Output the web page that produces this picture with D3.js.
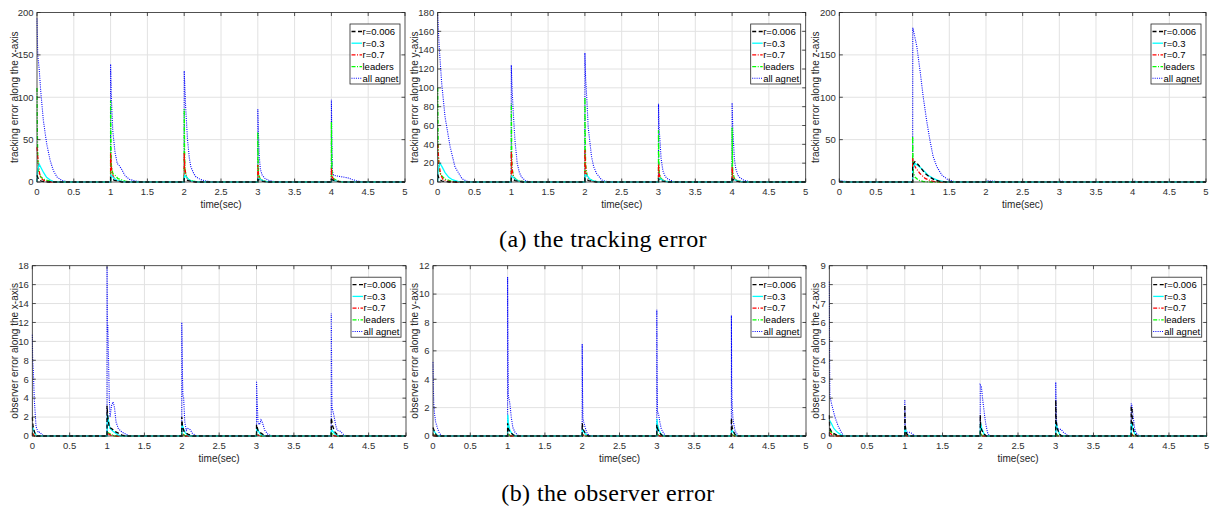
<!DOCTYPE html>
<html>
<head>
<meta charset="utf-8">
<script src="https://cdn.jsdelivr.net/npm/d3@7"></script>
<style>
  body { margin: 0; background: #fff; }
  svg { display: block; font-family: "Liberation Sans", Arial, sans-serif; }
  .tick-lbl { font-size: 9.5px; fill: #303030; }
  .ax-lbl   { font-size: 10px; fill: #262626; }
  .leg-lbl  { font-size: 9.5px; fill: #000; }
</style>
</head>
<body>
<svg id="fig" width="1214" height="513"></svg>
<script>
// ── 데이터 ───────────────────────────────────────────
const xTicks = [0, 0.5, 1, 1.5, 2, 2.5, 3, 3.5, 4, 4.5, 5];
const yTicksTx = [0, 50, 100, 150, 200];
const yTicksTy = [0, 20, 40, 60, 80, 100, 120, 140, 160, 180];
const yTicksTz = [0, 50, 100, 150, 200];
const yTicksOx = [0, 2, 4, 6, 8, 10, 12, 14, 16, 18];
const yTicksOy = [0, 2, 4, 6, 8, 10, 12];
const yTicksOz = [0, 1, 2, 3, 4, 5, 6, 7, 8, 9];

const legendNames = ["r=0.006", "r=0.3", "r=0.7", "leaders", "all agnet"];

// tracking error, x-axis
const tx_r006 = [[0,8],[0.02,3],[0.06,1],[0.15,0],[1,0],[1,5],[1.05,2],[1.15,0],[2,0],[2,4],[2.05,1.5],[2.15,0],[3,0],[3,3],[3.05,1],[3.12,0],[4,0],[4,3],[4.06,1],[4.15,0],[5,0]];
const tx_r03  = [[0,0],[0.005,12],[0.03,21],[0.06,16],[0.09,11],[0.13,5.5],[0.18,2.4],[0.22,0.5],[0.3,0],[1,0],[1.005,8],[1.03,6],[1.06,3],[1.1,1.5],[1.2,0],[2,0],[2.005,8],[2.03,6],[2.06,3],[2.1,1],[2.2,0],[3,0],[3.005,4],[3.03,3],[3.08,1],[3.15,0],[4,0],[4.005,3],[4.03,2],[4.1,0.5],[4.2,0],[5,0]];
const tx_r07  = [[0,41],[0.01,30],[0.02,20],[0.035,10],[0.06,4],[0.1,1.5],[0.2,0],[1,0],[1,34],[1.01,18],[1.02,10],[1.05,4],[1.1,1.5],[1.2,0],[2,0],[2,34],[2.01,15],[2.03,6],[2.06,2],[2.12,0.5],[2.2,0],[3,0],[3,20],[3.01,8],[3.03,3],[3.08,1],[3.15,0],[4,0],[4,17],[4.01,6],[4.03,3],[4.08,1],[4.15,0],[5,0]];
const tx_lead = [[0,111],[0.005,60],[0.01,30],[0.02,12],[0.05,6],[0.1,3],[0.18,1],[0.3,0],[1,0],[1,96],[1.005,50],[1.01,20],[1.03,10],[1.06,8],[1.1,4],[1.2,1],[1.3,0],[2,0],[2,86],[2.005,40],[2.01,15],[2.03,6],[2.06,3],[2.12,1],[2.2,0],[3,0],[3,59],[3.005,25],[3.01,10],[3.03,4],[3.07,1.5],[3.15,0],[4,0],[4,71],[4.005,30],[4.01,10],[4.03,4],[4.08,1.5],[4.15,0],[5,0]];
const tx_all  = [[0,193],[0.01,150],[0.03,133],[0.05,108],[0.086,73],[0.13,46],[0.177,26],[0.22,14],[0.27,6],[0.335,2],[0.4,0.5],[0.5,0],[1,0],[1,139],[1.01,100],[1.03,60],[1.06,35],[1.09,22],[1.12,19],[1.15,15],[1.2,7],[1.26,3],[1.35,1],[1.45,0],[2,0],[2,131],[2.01,110],[2.02,88],[2.045,50],[2.07,28],[2.09,18],[2.13,10],[2.16,6],[2.22,3],[2.3,1],[2.4,0],[3,0],[3,86],[3.01,55],[3.02,30],[3.035,15],[3.06,8],[3.1,4],[3.15,2],[3.22,0.5],[3.3,0],[4,0],[4,97],[4.005,60],[4.01,30],[4.015,12],[4.03,8],[4.08,7],[4.15,6],[4.22,5],[4.28,3],[4.35,1.2],[4.42,0],[5,0]];

// tracking error, y-axis
const ty_r006 = [[0,8],[0.02,3],[0.06,1],[0.15,0],[1,0],[1,4],[1.05,1.5],[1.15,0],[2,0],[2,4],[2.05,1.5],[2.15,0],[3,0],[3,3],[3.05,1],[3.12,0],[4,0],[4,3],[4.05,1],[4.12,0],[5,0]];
const ty_r03  = [[0,0],[0.005,12],[0.03,20],[0.06,16],[0.1,10],[0.15,5],[0.2,2.4],[0.28,0.5],[0.35,0],[1,0],[1.005,6],[1.03,5],[1.06,2.5],[1.1,1],[1.2,0],[2,0],[2.005,8],[2.03,7],[2.06,3.5],[2.1,1.5],[2.18,0],[3,0],[3.005,4],[3.03,3],[3.08,1],[3.15,0],[4,0],[4.005,3],[4.03,2.5],[4.08,1],[4.15,0],[5,0]];
const ty_r07  = [[0,40],[0.01,28],[0.02,18],[0.04,8],[0.07,3],[0.12,1],[0.2,0],[1,0],[1,32],[1.01,15],[1.02,8],[1.05,3],[1.1,1],[1.2,0],[2,0],[2,34],[2.01,16],[2.02,8],[2.05,3],[2.1,1],[2.2,0],[3,0],[3,19],[3.01,8],[3.03,3],[3.08,1],[3.15,0],[4,0],[4,16],[4.01,6],[4.03,3],[4.08,1],[4.15,0],[5,0]];
const ty_lead = [[0,100],[0.005,50],[0.01,25],[0.02,12],[0.05,7],[0.1,3],[0.18,1],[0.3,0],[1,0],[1,83],[1.005,40],[1.01,15],[1.03,6],[1.06,3],[1.12,1],[1.2,0],[2,0],[2,90],[2.005,45],[2.01,18],[2.03,7],[2.06,3],[2.12,1],[2.2,0],[3,0],[3,55],[3.005,25],[3.01,10],[3.03,4],[3.07,1.5],[3.15,0],[4,0],[4,58],[4.005,25],[4.01,10],[4.03,4],[4.07,1.5],[4.15,0],[5,0]];
const ty_all  = [[0,177],[0.01,160],[0.02,144],[0.054,105],[0.1,69],[0.17,37],[0.235,16],[0.33,3.5],[0.4,0.7],[0.5,0],[1,0],[1,124],[1.01,100],[1.025,76],[1.05,44],[1.08,20],[1.11,10],[1.14,5],[1.2,1],[1.28,0],[2,0],[2,137],[2.01,110],[2.025,90],[2.045,58],[2.09,27],[2.12,16],[2.16,9],[2.23,2],[2.3,0.5],[2.38,0],[3,0],[3,83],[3.01,55],[3.02,44],[3.035,25],[3.06,12],[3.09,6],[3.13,3],[3.2,0.7],[3.28,0],[4,0],[4,84],[4.01,55],[4.02,41],[4.03,25],[4.05,14],[4.08,7],[4.1,5],[4.16,1.8],[4.25,0.3],[4.3,0],[5,0]];

// tracking error, z-axis
const tz_r006 = [[0,0.5],[0.1,0],[1,0],[1,20],[1.03,24],[1.07,21],[1.1,18],[1.17,10],[1.24,5.5],[1.3,2.4],[1.37,0.8],[1.45,0],[5,0]];
const tz_r03  = [[0,0.5],[0.1,0],[1,0],[1,15],[1.03,22],[1.08,19],[1.145,14],[1.21,8],[1.28,4.3],[1.37,1.2],[1.45,0.2],[1.5,0],[5,0]];
const tz_r07  = [[0,0],[1,0],[1,28],[1.01,22],[1.04,17],[1.1,10],[1.17,4.3],[1.24,1.6],[1.3,0.5],[1.4,0],[5,0]];
const tz_lead = [[0,1],[0.05,0],[1,0],[1,54],[1.005,25],[1.01,12],[1.03,6],[1.08,2],[1.15,0.5],[1.25,0],[5,0]];
const tz_all  = [[0,2],[0.05,1],[0.2,0],[1,0],[1.002,182],[1.02,175],[1.055,161],[1.1,132],[1.145,100],[1.19,73],[1.236,49],[1.28,30],[1.33,18],[1.4,8],[1.486,2.4],[1.58,0.3],[1.65,0],[2,0],[2.02,1.5],[2.15,0.5],[2.25,0],[3,0],[3.02,1],[3.12,0],[4,0],[4.02,1],[4.12,0],[5,0]];

// observer error, x-axis
const ox_r006 = [[0,2],[0.01,1],[0.03,0.4],[0.06,0],[1,0],[1,3.2],[1.01,2],[1.03,0.9],[1.06,0.8],[1.1,0.5],[1.2,0.1],[1.25,0],[2,0],[2,2],[2.01,1],[2.03,0.5],[2.08,0.2],[2.15,0],[3,0],[3,1.2],[3.02,0.6],[3.06,0.3],[3.12,0],[4,0],[4,1.9],[4.02,1],[4.05,0.4],[4.1,0],[5,0]];
const ox_r03  = [[0,1],[0.02,0.5],[0.05,0.1],[0.08,0],[1,0],[1.005,2.3],[1.02,1.6],[1.04,0.8],[1.08,0.5],[1.15,0.1],[1.2,0],[2,0],[2.005,1.2],[2.02,0.8],[2.05,0.3],[2.1,0],[3,0],[3.005,0.9],[3.02,0.6],[3.05,0.2],[3.1,0],[4,0],[4.005,0.7],[4.02,0.5],[4.05,0.2],[4.1,0],[5,0]];
const ox_r07  = [[0,0.3],[0.03,0],[1,0],[1,0.3],[1.05,0.1],[1.1,0],[2,0],[2,0.2],[2.05,0],[3,0],[3,0.15],[3.05,0],[4,0],[4,0.2],[4.05,0],[5,0]];
const ox_lead = [[0,0.3],[0.03,0],[1,0],[1,0.4],[1.05,0.2],[1.1,0],[2,0],[2,0.3],[2.05,0],[3,0],[3,0.2],[3.05,0],[4,0],[4,0.3],[4.05,0],[5,0]];
const ox_all  = [[0,10.7],[0.005,8],[0.013,7],[0.027,3.8],[0.05,1],[0.08,0.35],[0.1,0.4],[0.125,0.2],[0.15,0],[1,0],[1,18],[1.005,11],[1.01,11.8],[1.02,8],[1.03,4],[1.04,2],[1.06,3.2],[1.08,3.6],[1.1,3],[1.12,1.5],[1.15,0.8],[1.2,0.4],[1.3,0],[2,0],[2,12],[2.01,6],[2.015,4.3],[2.025,4],[2.04,1.5],[2.06,0.6],[2.08,0.8],[2.11,0.7],[2.14,0.3],[2.2,0],[3,0],[3,5.8],[3.01,3.5],[3.02,1.4],[3.04,1.2],[3.06,1.7],[3.08,1.4],[3.11,0.6],[3.15,0.2],[3.2,0],[4,0],[4,13],[4.005,7],[4.01,3],[4.02,2.7],[4.04,2],[4.06,1.1],[4.08,0.6],[4.12,0.5],[4.16,0.2],[4.2,0],[5,0]];

// observer error, y-axis
const oy_r006 = [[0,0.6],[0.02,0.3],[0.05,0],[1,0],[1,0.9],[1.01,0.5],[1.03,0.3],[1.07,0.1],[1.1,0],[2,0],[2,0.9],[2.01,0.5],[2.04,0.2],[2.08,0],[3,0],[3,0.8],[3.01,0.5],[3.04,0.2],[3.08,0],[4,0],[4,1.25],[4.01,0.6],[4.03,0.3],[4.06,0],[5,0]];
const oy_r03  = [[0,0.4],[0.02,0.3],[0.04,0.15],[0.07,0],[1,0],[1.003,1.5],[1.01,0.9],[1.03,0.4],[1.06,0.15],[1.1,0],[2,0],[2.003,0.5],[2.02,0.3],[2.05,0.1],[2.08,0],[3,0],[3.003,1.2],[3.01,0.8],[3.03,0.4],[3.06,0.1],[3.1,0],[4,0],[4.003,0.45],[4.02,0.3],[4.05,0.1],[4.08,0],[5,0]];
const oy_r07  = [[0,0.1],[0.03,0],[1,0],[1,0.15],[1.04,0],[2,0],[2,0.1],[2.04,0],[3,0],[3,0.1],[3.04,0],[4,0],[4,0.1],[4.04,0],[5,0]];
const oy_lead = [[0,0.15],[0.03,0],[1,0],[1,0.2],[1.04,0],[2,0],[2,0.15],[2.04,0],[3,0],[3,0.15],[3.04,0],[4,0],[4,0.15],[4.04,0],[5,0]];
const oy_all  = [[0,5.2],[0.005,3.5],[0.01,2.3],[0.02,1.6],[0.035,1],[0.06,0.55],[0.085,0.2],[0.12,0],[1,0],[1,11.2],[1.005,6],[1.01,2.8],[1.02,2.6],[1.03,2.3],[1.05,1.3],[1.07,0.6],[1.1,0.25],[1.15,0],[2,0],[2,6.5],[2.005,3],[2.01,1.3],[2.02,1],[2.035,0.7],[2.06,0.25],[2.1,0],[3,0],[3,8.9],[3.005,4],[3.01,1.7],[3.025,1.5],[3.04,1],[3.06,0.5],[3.09,0.2],[3.12,0],[4,0],[4,8.5],[4.004,4],[4.01,2.3],[4.02,1.3],[4.03,0.9],[4.05,0.35],[4.08,0.1],[4.1,0],[5,0]];

// observer error, z-axis
const oz_r006 = [[0,1.1],[0.005,0.4],[0.02,0.3],[0.05,0.15],[0.1,0.05],[0.15,0],[1,0],[1,1.64],[1.005,0.6],[1.02,0.15],[1.05,0],[2,0],[2,1.1],[2.005,0.5],[2.02,0.3],[2.05,0.1],[2.08,0],[3,0],[3,1.9],[3.005,0.8],[3.02,0.4],[3.05,0.1],[3.08,0],[4,0],[4,1.55],[4.01,1.5],[4.015,0.8],[4.03,0.3],[4.05,0.1],[4.08,0],[5,0]];
const oz_r03  = [[0,0.85],[0.03,0.65],[0.06,0.4],[0.1,0.22],[0.16,0.05],[0.2,0],[1,0],[1.003,0.5],[1.02,0.15],[1.05,0],[2,0],[2.003,0.7],[2.02,0.4],[2.05,0.1],[2.08,0],[3,0],[3.003,0.8],[3.02,0.4],[3.05,0.1],[3.08,0],[4,0],[4.003,0.75],[4.02,0.4],[4.05,0.1],[4.08,0],[5,0]];
const oz_r07  = [[0,0.2],[0.05,0],[1,0],[1,0.1],[1.03,0],[2,0],[2,0.1],[2.03,0],[3,0],[3,0.1],[3.03,0],[4,0],[4,0.1],[4.03,0],[5,0]];
const oz_lead = [[0,0.3],[0.05,0.1],[0.1,0],[1,0],[1,0.15],[1.03,0],[2,0],[2,0.15],[2.03,0],[3,0],[3,0.15],[3.03,0],[4,0],[4,0.15],[4.03,0],[5,0]];
const oz_all  = [[0,8.15],[0.004,4],[0.008,2.1],[0.03,1.7],[0.075,1],[0.12,0.5],[0.165,0.15],[0.2,0],[1,0],[1,1.9],[1.005,0.8],[1.01,0.3],[1.03,0.2],[1.06,0.2],[1.09,0.15],[1.12,0.05],[1.15,0],[2,0],[2,2.7],[2.015,2.6],[2.03,2],[2.045,1.5],[2.06,1],[2.075,0.6],[2.095,0.2],[2.12,0],[3,0],[3,2.85],[3.005,1.5],[3.01,0.85],[3.02,0.4],[3.04,0.35],[3.07,0.35],[3.1,0.2],[3.15,0.05],[3.2,0],[4,0],[4,1.72],[4.01,1.6],[4.02,1.2],[4.03,0.9],[4.045,0.4],[4.06,0.2],[4.09,0.05],[4.1,0],[5,0]];

// ── 스타일 (범례 순서) ─────────────────────────────────────
const STYLES = [
    { color: "#000000", dash: "4,2.5",       w: 1.3 },
    { color: "#00ffff", dash: null,          w: 1.3 },
    { color: "#ff0000", dash: "4,1.5,1,1.5", w: 1.3 },
    { color: "#00ff00", dash: "4,1.5,1,1.5", w: 1.3 },
    { color: "#0000ff", dash: "1,1.2",       w: 1.1 }
];
const DRAW_ORDER = [4, 3, 2, 1, 0];   // 파랑이 맨 아래, 검정 점선이 맨 위

const AXIS_C = "#262626";
const GRID_C = "#e2e2e2";
const TICK_L = 3.5;
const CAP_FONT = "'Liberation Serif', 'Times New Roman', serif";

// ── 패널 배치 ─────────────────────────────────────────────
const panels = [
    { series: [tx_r006, tx_r03, tx_r07, tx_lead, tx_all], yTicks: yTicksTx, ylabel: "tracking error along the x-axis", box: [37, 12.5, 405, 182],     labX: 14 },
    { series: [ty_r006, ty_r03, ty_r07, ty_lead, ty_all], yTicks: yTicksTy, ylabel: "tracking error along the y-axis", box: [437.7, 12.5, 805.7, 182], labX: 414 },
    { series: [tz_r006, tz_r03, tz_r07, tz_lead, tz_all], yTicks: yTicksTz, ylabel: "tracking error along the z-axis", box: [839.3, 12.5, 1206, 182],  labX: 815 },
    { series: [ox_r006, ox_r03, ox_r07, ox_lead, ox_all], yTicks: yTicksOx, ylabel: "observer error along the x-axis", box: [32.3, 265.7, 406, 436],   labX: 14 },
    { series: [oy_r006, oy_r03, oy_r07, oy_lead, oy_all], yTicks: yTicksOy, ylabel: "observer error along the y-axis", box: [433, 265.7, 806, 436],    labX: 414 },
    { series: [oz_r006, oz_r03, oz_r07, oz_lead, oz_all], yTicks: yTicksOz, ylabel: "observer error along the z-axis", box: [829.3, 265.7, 1206.7, 436], labX: 815 }
];

const svg = d3.select("#fig");
svg.append("rect").attr("width", 1214).attr("height", 513).attr("fill", "#fff");

panels.forEach((p, pi) => {
    const [x0, y0, x1, y1] = p.box;
    const x = d3.scaleLinear().domain([0, 5]).range([x0, x1]);
    const y = d3.scaleLinear().domain([0, d3.max(p.yTicks)]).range([y1, y0]);
    const g = svg.append("g");

    // 그리드
    g.append("g").selectAll("line").data(xTicks.slice(1, -1)).join("line")
        .attr("x1", d => x(d)).attr("x2", d => x(d)).attr("y1", y0).attr("y2", y1)
        .attr("stroke", GRID_C).attr("stroke-width", 1);
    g.append("g").selectAll("line").data(p.yTicks.slice(1, -1)).join("line")
        .attr("y1", d => y(d)).attr("y2", d => y(d)).attr("x1", x0).attr("x2", x1)
        .attr("stroke", GRID_C).attr("stroke-width", 1);

    // 데이터
    const clipId = "clip" + pi;
    svg.append("defs").append("clipPath").attr("id", clipId)
        .append("rect").attr("x", x0 - 1).attr("y", y0).attr("width", x1 - x0 + 2).attr("height", y1 - y0 + 1);
    const line = d3.line().x(d => x(d[0])).y(d => y(d[1]));
    const dg = g.append("g").attr("clip-path", `url(#${clipId})`);
    DRAW_ORDER.forEach(si => {
        const st = STYLES[si];
        dg.append("path")
            .attr("d", line(p.series[si]))
            .attr("fill", "none")
            .attr("stroke", st.color)
            .attr("stroke-width", st.w)
            .attr("stroke-dasharray", st.dash)
            .attr("stroke-linejoin", "miter");
    });

    // 박스 + 안쪽 눈금
    g.append("rect").attr("x", x0).attr("y", y0).attr("width", x1 - x0).attr("height", y1 - y0)
        .attr("fill", "none").attr("stroke", AXIS_C).attr("stroke-width", 0.8);
    const tk = g.append("g").attr("stroke", AXIS_C).attr("stroke-width", 0.8);
    xTicks.forEach(t => {
        tk.append("line").attr("x1", x(t)).attr("x2", x(t)).attr("y1", y1).attr("y2", y1 - TICK_L);
        tk.append("line").attr("x1", x(t)).attr("x2", x(t)).attr("y1", y0).attr("y2", y0 + TICK_L);
    });
    p.yTicks.forEach(t => {
        tk.append("line").attr("y1", y(t)).attr("y2", y(t)).attr("x1", x0).attr("x2", x0 + TICK_L);
        tk.append("line").attr("y1", y(t)).attr("y2", y(t)).attr("x1", x1).attr("x2", x1 - TICK_L);
    });

    // 눈금 라벨
    g.append("g").selectAll("text").data(xTicks).join("text")
        .attr("class", "tick-lbl").attr("x", d => x(d)).attr("y", y1 + 12.5)
        .attr("text-anchor", "middle").text(d => String(d));
    g.append("g").selectAll("text").data(p.yTicks).join("text")
        .attr("class", "tick-lbl").attr("x", x0 - 3.5).attr("y", d => y(d)).attr("dy", "0.35em")
        .attr("text-anchor", "end").text(d => String(d));

    // 축 제목
    g.append("text").attr("class", "ax-lbl")
        .attr("x", (x0 + x1) / 2).attr("y", y1 + 25.5)
        .attr("text-anchor", "middle").text("time(sec)");
    g.append("text").attr("class", "ax-lbl")
        .attr("transform", `translate(${p.labX},${(y0 + y1) / 2}) rotate(-90)`)
        .attr("dy", "0.35em").attr("text-anchor", "middle").text(p.ylabel);

    // 범례
    const lx0 = x1 - 55, lx1 = x1 - 5, ly0 = y0 + 11.5, ly1 = y0 + 71.5;
    const lg = g.append("g");
    lg.append("rect").attr("x", lx0).attr("y", ly0).attr("width", lx1 - lx0).attr("height", ly1 - ly0)
        .attr("fill", "#fff").attr("stroke", AXIS_C).attr("stroke-width", 0.8);
    legendNames.forEach((name, i) => {
        const cy = ly0 + 7.5 + i * 11.7;
        const st = STYLES[i];
        lg.append("line").attr("x1", lx0 + 1.5).attr("x2", lx0 + 12).attr("y1", cy).attr("y2", cy)
            .attr("stroke", st.color).attr("stroke-width", st.w).attr("stroke-dasharray", st.dash);
        lg.append("text").attr("class", "leg-lbl").attr("x", lx0 + 12.5).attr("y", cy).attr("dy", "0.35em").text(name);
    });
});

// ── 캡션 ───────────────────────────────────────────────────
function caption(txt, cx, by) {
    svg.append("text")
        .attr("x", cx).attr("y", by).attr("text-anchor", "middle")
        .style("font-family", CAP_FONT).style("font-size", "24px")
        .style("letter-spacing", "0.4px").style("fill", "#000")
        .text(txt);
}
caption("(a) the tracking error", 603, 247);
caption("(b) the observer error", 608, 501);
</script>
</body>
</html>
